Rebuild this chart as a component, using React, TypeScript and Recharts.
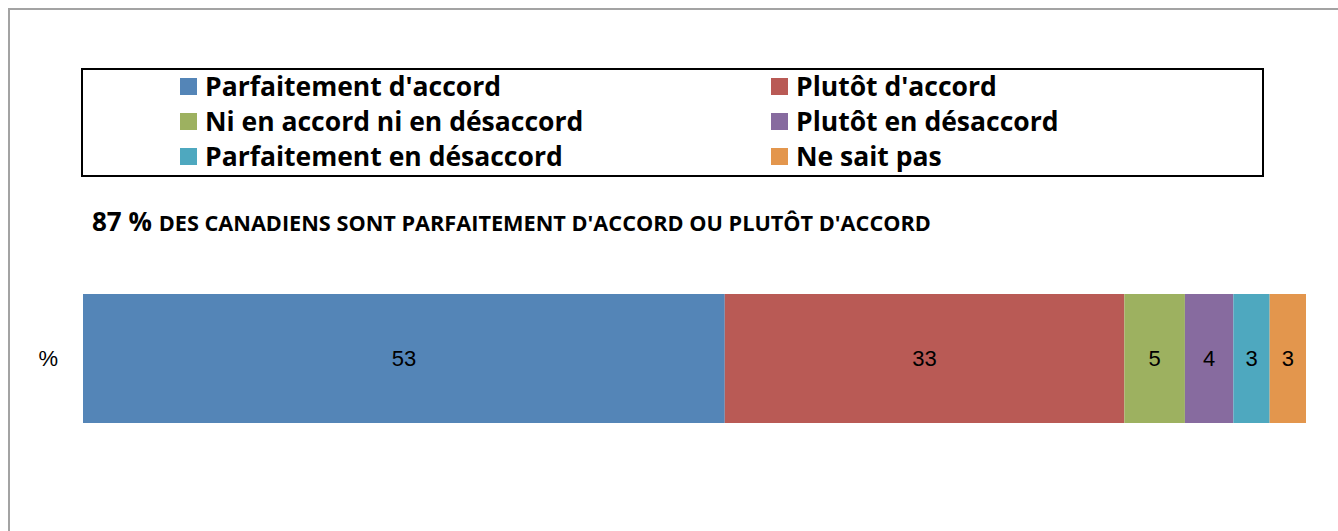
import { BarChart, Bar, XAxis, YAxis, Legend, LabelList, Customized } from 'recharts';

const categories = ['%'];
const seriesNames = [
  'Parfaitement d\'accord',
  'Plutôt d\'accord',
  'Ni en accord ni en désaccord',
  'Plutôt en désaccord',
  'Parfaitement en désaccord',
  'Ne sait pas',
];
const seriesValues = [53, 33, 5, 4, 3, 3];
const seriesColors = ['#5485B7', '#B95A55', '#9DB160', '#876B9F', '#4EA8BF', '#E3964D'];
const titleStrong = '87 %';
const titleRest = 'DES CANADIENS SONT PARFAITEMENT D\'ACCORD OU PLUTÔT D\'ACCORD';

const keys = seriesNames.map((_, i) => `s${i}`);
const data = categories.map((name) => {
  const row: any = { name };
  keys.forEach((k, i) => {
    row[k] = seriesValues[i];
  });
  return row;
});
const total = seriesValues.reduce((a, b) => a + b, 0);

const FONT = '"Open Sans", "Noto Sans", sans-serif';

function LegendBox({ payload }: any) {
  // keep the series order, not the alphabetical one
  const items = [...(payload || [])].sort(
    (a: any, b: any) => seriesNames.indexOf(a.value) - seriesNames.indexOf(b.value)
  );
  return (
    <div
      style={{
        width: 1183,
        height: 109,
        boxSizing: 'border-box',
        border: '2px solid #000',
        display: 'grid',
        gridTemplateColumns: '591px 1fr',
        gridAutoRows: '35px',
        paddingTop: 0,
        paddingLeft: 97,
        fontFamily: FONT,
        fontWeight: 700,
        fontSize: 26.5,
        lineHeight: '35px',
        color: '#000',
      }}
    >
      {items.map((it: any) => (
        <div key={it.value} style={{ display: 'flex', alignItems: 'center', whiteSpace: 'nowrap', marginTop: -3 }}>
          <span style={{ display: 'inline-block', width: 17, height: 17, background: it.color, marginRight: 8 }} />
          <span>{it.value}</span>
        </div>
      ))}
    </div>
  );
}

function Title() {
  return (
    <text x={82} y={221} fontFamily={FONT} fontWeight={700} fill="#000">
      <tspan fontSize={26}>{titleStrong} </tspan>
      <tspan fontSize={21.7}>{titleRest}</tspan>
    </text>
  );
}

export default function App() {
  return (
    <div
      style={{
        position: 'fixed',
        top: 8,
        left: 8,
        width: 1328,
        height: 521,
        borderTop: '2px solid #a3a3a3',
        borderLeft: '2px solid #a3a3a3',
        background: '#fff',
        overflow: 'hidden',
      }}
    >
      <BarChart
        width={1328}
        height={521}
        data={data}
        layout="vertical"
        margin={{ top: 284, right: 32, bottom: 108, left: 0 }}
        barCategoryGap={0}
      >
        <XAxis type="number" domain={[0, total]} hide />
        <YAxis
          type="category"
          dataKey="name"
          width={73}
          axisLine={false}
          tickLine={false}
          tickSize={0}
          tickMargin={25}
          tick={{ fill: '#000', fontSize: 22, fontFamily: '"Liberation Sans", Arial, sans-serif' }}
        />
        <Legend
          layout="horizontal"
          verticalAlign="middle"
          content={<LegendBox />}
          wrapperStyle={{ top: 58, left: 71, width: 1183, height: 109 }}
        />
        <Customized component={Title} />
        {keys.map((k, i) => (
          <Bar
            key={k}
            dataKey={k}
            name={seriesNames[i]}
            stackId="a"
            fill={seriesColors[i]}
            isAnimationActive={false}
          >
            <LabelList
              dataKey={k}
              position="center"
              fill="#000"
              fontSize={22}
              fontFamily='"Liberation Sans", Arial, sans-serif'
            />
          </Bar>
        ))}
      </BarChart>
    </div>
  );
}
